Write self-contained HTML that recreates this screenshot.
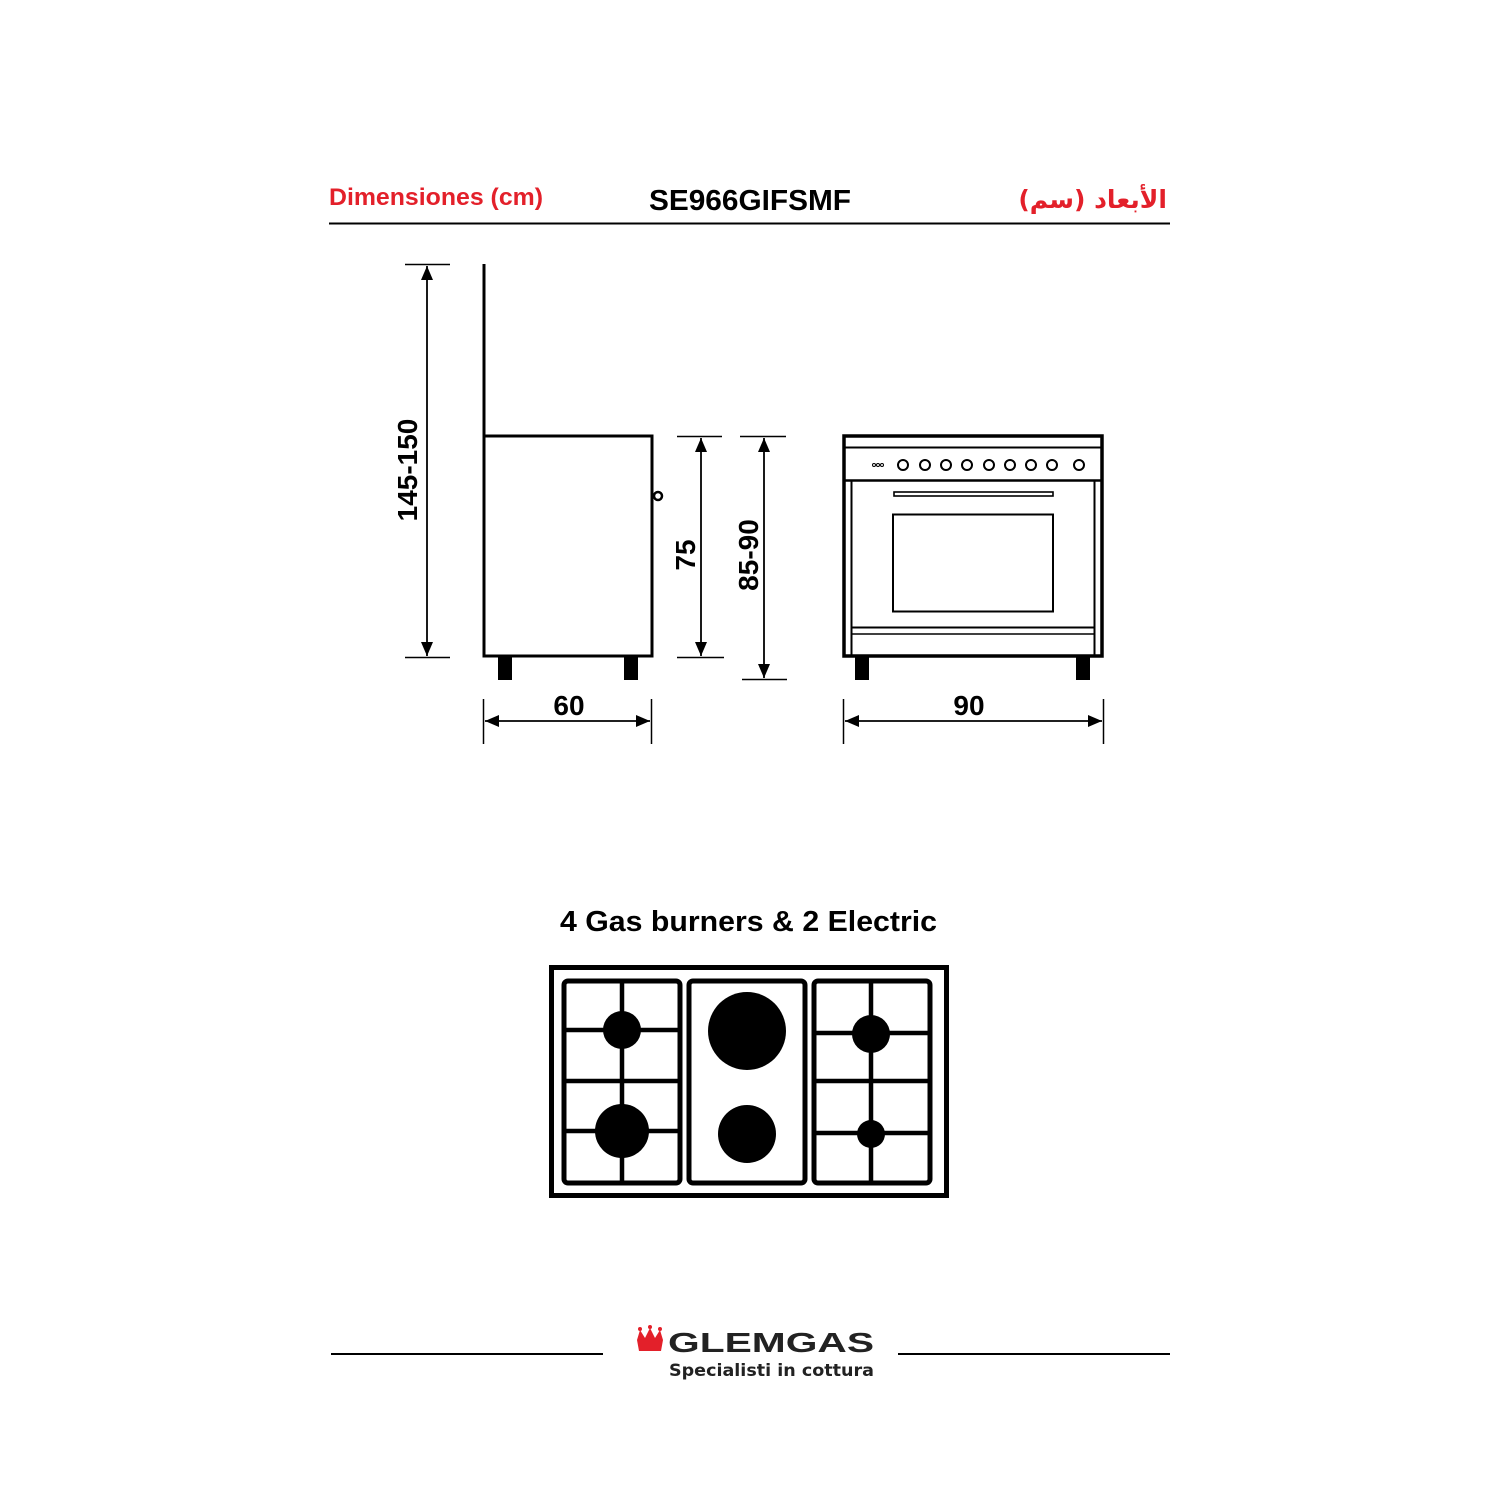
<!DOCTYPE html>
<html><head><meta charset="utf-8"><style>
html,body{margin:0;padding:0;background:#fff;}
svg{display:block}
</style></head><body>
<svg width="1500" height="1500" viewBox="0 0 1500 1500" xmlns="http://www.w3.org/2000/svg">
<defs>
<marker id="a" viewBox="0 0 14 12" refX="14" refY="6" markerWidth="14" markerHeight="12" markerUnits="userSpaceOnUse" orient="auto-start-reverse"><path d="M0,0 L14,6 L0,12 z" fill="#000"/></marker>
</defs>
<rect width="1500" height="1500" fill="#fff"/>
<!-- header -->
<text x="329" y="205" font-family="Liberation Sans, sans-serif" font-size="24" font-weight="bold" fill="#e3202a" textLength="214" lengthAdjust="spacingAndGlyphs">Dimensiones (cm)</text>
<text x="750" y="210" text-anchor="middle" font-family="Liberation Sans, sans-serif" font-size="29" font-weight="bold" fill="#000" textLength="202" lengthAdjust="spacingAndGlyphs">SE966GIFSMF</text>
<text x="1167" y="208" text-anchor="end" font-family="DejaVu Sans, sans-serif" font-size="25" font-weight="bold" fill="#e3202a">الأبعاد (سم)</text>
<line x1="329" y1="223.5" x2="1170" y2="223.5" stroke="#000" stroke-width="2"/>

<g stroke="#000" fill="none">
<!-- side view -->
<line x1="484" y1="264" x2="484" y2="436" stroke-width="3"/>
<rect x="484" y="436" width="168" height="220" stroke-width="3"/>
<circle cx="658" cy="496" r="4" stroke-width="2.5"/>
<!-- 145-150 -->
<line x1="405" y1="264.5" x2="450" y2="264.5" stroke-width="1.5"/>
<line x1="405" y1="657.5" x2="450" y2="657.5" stroke-width="1.5"/>
<line x1="427" y1="266" x2="427" y2="656" stroke-width="1.8" marker-start="url(#a)" marker-end="url(#a)"/>
<!-- 75 -->
<line x1="677" y1="436.5" x2="722" y2="436.5" stroke-width="1.5"/>
<line x1="677" y1="657.5" x2="724" y2="657.5" stroke-width="1.5"/>
<line x1="701" y1="438" x2="701" y2="656" stroke-width="1.8" marker-start="url(#a)" marker-end="url(#a)"/>
<!-- 85-90 -->
<line x1="740" y1="436.5" x2="786" y2="436.5" stroke-width="1.5"/>
<line x1="742" y1="679.5" x2="787" y2="679.5" stroke-width="1.5"/>
<line x1="764" y1="438" x2="764" y2="678" stroke-width="1.8" marker-start="url(#a)" marker-end="url(#a)"/>
<!-- 60 -->
<line x1="483.5" y1="699" x2="483.5" y2="744" stroke-width="1.5"/>
<line x1="651.5" y1="699" x2="651.5" y2="744" stroke-width="1.5"/>
<line x1="485" y1="721" x2="650" y2="721" stroke-width="1.8" marker-start="url(#a)" marker-end="url(#a)"/>
<!-- 90 -->
<line x1="843.5" y1="699" x2="843.5" y2="744" stroke-width="1.5"/>
<line x1="1103.5" y1="699" x2="1103.5" y2="744" stroke-width="1.5"/>
<line x1="845" y1="721" x2="1102" y2="721" stroke-width="1.8" marker-start="url(#a)" marker-end="url(#a)"/>

<!-- front view -->
<rect x="844" y="436" width="258" height="220" stroke-width="3.5"/>
<line x1="845" y1="447.5" x2="1101" y2="447.5" stroke-width="2"/>
<line x1="845" y1="480.5" x2="1101" y2="480.5" stroke-width="2.5"/>
<line x1="851.5" y1="481" x2="851.5" y2="655" stroke-width="2"/>
<line x1="1094.5" y1="481" x2="1094.5" y2="655" stroke-width="2"/>
<rect x="894" y="492" width="159" height="4" stroke-width="1.6"/>
<rect x="893" y="514.5" width="160" height="97" stroke-width="2"/>
<line x1="852" y1="627.5" x2="1094" y2="627.5" stroke-width="2"/>
<line x1="852" y1="634" x2="1094" y2="634" stroke-width="1.5"/>
<g stroke-width="2">
<circle cx="903" cy="465" r="5"/><circle cx="925" cy="465" r="5"/><circle cx="946" cy="465" r="5"/>
<circle cx="967" cy="465" r="5"/><circle cx="989" cy="465" r="5"/><circle cx="1010" cy="465" r="5"/>
<circle cx="1031" cy="465" r="5"/><circle cx="1052" cy="465" r="5"/><circle cx="1079" cy="465" r="5"/>
</g>
<g stroke-width="1"><circle cx="874" cy="465" r="1.5"/><circle cx="878" cy="465" r="1.5"/><circle cx="882" cy="465" r="1.5"/></g>

<!-- hob -->
<rect x="551.5" y="967.5" width="395" height="228" stroke-width="5"/>
<rect x="564" y="981" width="116" height="202" rx="4" stroke-width="5"/>
<rect x="689" y="981" width="116" height="202" rx="4" stroke-width="5"/>
<rect x="814" y="981" width="116" height="202" rx="4" stroke-width="5"/>
<g stroke-width="4.5">
<line x1="622" y1="981" x2="622" y2="1183"/>
<line x1="564" y1="1030" x2="680" y2="1030"/>
<line x1="564" y1="1081" x2="680" y2="1081"/>
<line x1="564" y1="1131" x2="680" y2="1131"/>
<line x1="871" y1="981" x2="871" y2="1183"/>
<line x1="814" y1="1033" x2="930" y2="1033"/>
<line x1="814" y1="1081" x2="930" y2="1081"/>
<line x1="814" y1="1133" x2="930" y2="1133"/>
</g>
</g>
<g fill="#000">
<rect x="498" y="657" width="14" height="23"/><rect x="624" y="657" width="14" height="23"/>
<rect x="855" y="657" width="14" height="23"/><rect x="1076" y="657" width="14" height="23"/>
<circle cx="622" cy="1030" r="19"/><circle cx="622" cy="1131" r="27"/>
<circle cx="747" cy="1031" r="39"/><circle cx="747" cy="1134" r="29"/>
<circle cx="871" cy="1034" r="19"/><circle cx="871" cy="1134" r="14"/>
</g>
<g font-family="Liberation Sans, sans-serif" font-weight="bold" font-size="28" fill="#000">
<text x="569" y="715" text-anchor="middle">60</text>
<text x="969" y="715" text-anchor="middle">90</text>
<text transform="translate(417,470) rotate(-90)" text-anchor="middle">145-150</text>
<text transform="translate(695,555) rotate(-90)" text-anchor="middle">75</text>
<text transform="translate(758,555) rotate(-90)" text-anchor="middle">85-90</text>
<text x="560" y="931" font-size="29" textLength="377" lengthAdjust="spacingAndGlyphs">4 Gas burners  &amp; 2 Electric</text>
</g>
<!-- footer -->
<line x1="331" y1="1354" x2="603" y2="1354" stroke="#000" stroke-width="2"/>
<line x1="898" y1="1354" x2="1170" y2="1354" stroke="#000" stroke-width="2"/>
<path d="M637,1340 L640,1330 L645,1338 L650,1328 L655,1338 L660,1330 L663,1340 L661,1351 L639,1351 z" fill="#e3202a"/>
<circle cx="640" cy="1329" r="2" fill="#e3202a"/><circle cx="650" cy="1327" r="2" fill="#e3202a"/><circle cx="660" cy="1329" r="2" fill="#e3202a"/>
<text x="668" y="1352" font-family="Liberation Sans, sans-serif" font-weight="bold" font-size="28" fill="#222" textLength="206" lengthAdjust="spacingAndGlyphs">GLEMGAS</text>
<text x="669" y="1376" font-family="DejaVu Sans, sans-serif" font-weight="bold" font-size="17" fill="#222" textLength="205" lengthAdjust="spacingAndGlyphs">Specialisti in cottura</text>
</svg>
</body></html>
